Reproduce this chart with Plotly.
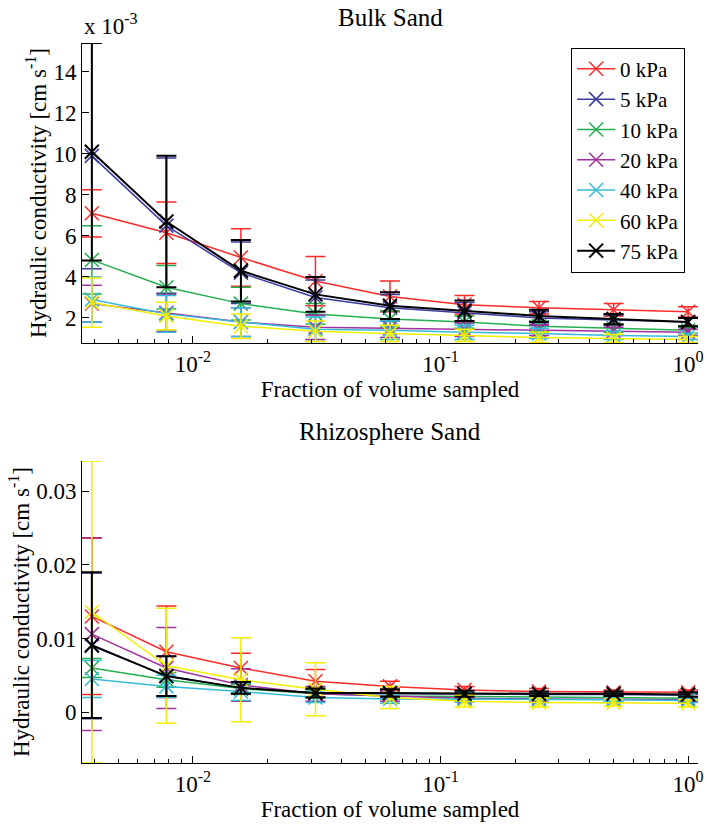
import plotly.graph_objects as go

# Fraction of volume sampled
fraction = [1/256, 1/128, 1/64, 1/32, 1/16, 1/8, 1/4, 1/2, 1]

series_names = ["0 kPa", "5 kPa", "10 kPa", "20 kPa", "40 kPa", "60 kPa", "75 kPa"]
series_colors = ["#ff2a2a", "#3a3aa0", "#22b04e", "#a0309e", "#34bbd8", "#f2ee00", "#000000"]

# Bulk sand (x 10^-3 cm/s)
bulk_0 = [7.1, 6.15, 4.95, 3.8, 3.05, 2.65, 2.5, 2.4, 2.3]
bulk_5 = [9.9, 6.5, 4.2, 3.0, 2.5, 2.25, 2.0, 1.9, 1.8]
bulk_10 = [4.83, 3.5, 2.7, 2.2, 1.95, 1.8, 1.6, 1.5, 1.4]
bulk_20 = [2.7, 2.25, 1.8, 1.55, 1.5, 1.45, 1.4, 1.35, 1.3]
bulk_40 = [2.9, 2.2, 1.8, 1.45, 1.4, 1.3, 1.25, 1.15, 1.1]
bulk_60 = [2.75, 2.1, 1.6, 1.35, 1.25, 1.15, 1.05, 1.0, 0.95]
bulk_75 = [10.1, 6.7, 4.3, 3.15, 2.6, 2.35, 2.1, 1.95, 1.8]

bulk_err_0 = [1.15, 1.5, 1.4, 1.2, 0.75, 0.45, 0.3, 0.3, 0.25]
bulk_err_5 = [5.5, 3.3, 1.5, 0.85, 0.65, 0.5, 0.3, 0.25, 0.2]
bulk_err_10 = [1.66, 1.06, 0.8, 0.5, 0.4, 0.3, 0.25, 0.2, 0.15]
bulk_err_20 = [0.9, 0.9, 0.7, 0.6, 0.45, 0.35, 0.25, 0.2, 0.15]
bulk_err_40 = [1.1, 0.9, 0.7, 0.6, 0.45, 0.35, 0.25, 0.2, 0.15]
bulk_err_60 = [1.2, 0.67, 0.6, 0.5, 0.4, 0.3, 0.25, 0.2, 0.15]
bulk_err_75 = [5.3, 3.2, 1.5, 0.85, 0.65, 0.5, 0.3, 0.25, 0.2]

# Rhizosphere sand (cm/s)
rhizo_0 = [0.013, 0.0082, 0.006, 0.0042, 0.0035, 0.003, 0.0028, 0.0027, 0.0027]
rhizo_5 = [0.009, 0.0049, 0.0033, 0.0026, 0.0025, 0.0024, 0.0024, 0.0024, 0.0023]
rhizo_10 = [0.006, 0.0044, 0.0032, 0.0025, 0.0022, 0.0021, 0.002, 0.002, 0.0019]
rhizo_20 = [0.0106, 0.006, 0.0037, 0.0025, 0.0022, 0.0019, 0.0018, 0.0017, 0.0017]
rhizo_40 = [0.0045, 0.0035, 0.0028, 0.002, 0.0018, 0.0018, 0.0017, 0.0017, 0.0016]
rhizo_60 = [0.0136, 0.0063, 0.0044, 0.0031, 0.002, 0.0015, 0.0013, 0.0013, 0.0012]
rhizo_75 = [0.0091, 0.0049, 0.0033, 0.0026, 0.0026, 0.0025, 0.0025, 0.0025, 0.0024]

rhizo_err_0 = [0.0106, 0.0062, 0.002, 0.0016, 0.0007, 0.0005, 0.0004, 0.0003, 0.0003]
rhizo_err_5 = [0.0099, 0.0027, 0.0008, 0.0005, 0.0004, 0.0003, 0.0003, 0.0002, 0.0002]
rhizo_err_10 = [0.0013, 0.001, 0.0006, 0.0005, 0.0004, 0.0003, 0.0003, 0.0002, 0.0002]
rhizo_err_20 = [0.0131, 0.0055, 0.0022, 0.001, 0.0007, 0.0005, 0.0004, 0.0003, 0.0003]
rhizo_err_40 = [0.0025, 0.0015, 0.0012, 0.0007, 0.0006, 0.0004, 0.0004, 0.0003, 0.0003]
rhizo_err_60 = [0.0205, 0.0078, 0.0057, 0.0036, 0.0015, 0.0008, 0.0006, 0.0005, 0.0005]
rhizo_err_75 = [0.0099, 0.0027, 0.0008, 0.0006, 0.0005, 0.0004, 0.0003, 0.0003, 0.0003]

bulk_vals = [bulk_0, bulk_5, bulk_10, bulk_20, bulk_40, bulk_60, bulk_75]
bulk_errs = [bulk_err_0, bulk_err_5, bulk_err_10, bulk_err_20, bulk_err_40, bulk_err_60, bulk_err_75]
rhizo_vals = [rhizo_0, rhizo_5, rhizo_10, rhizo_20, rhizo_40, rhizo_60, rhizo_75]
rhizo_errs = [rhizo_err_0, rhizo_err_5, rhizo_err_10, rhizo_err_20, rhizo_err_40, rhizo_err_60, rhizo_err_75]

x_tickvals = [0.01, 0.1, 1]
x_ticktext = ["10<sup>-2</sup>", "10<sup>-1</sup>", "10<sup>0</sup>"]
bulk_tickvals = [2, 4, 6, 8, 10, 12, 14]
rhizo_tickvals = [0, 0.01, 0.02, 0.03]
rhizo_ticktext = ["0", "0.01", "0.02", "0.03"]

FONT = "Liberation Serif"
fig = go.Figure()

for i, name in enumerate(series_names):
    col = series_colors[i]
    lw = 2 if col == "#000000" else 1.5
    fig.add_trace(go.Scatter(
        x=fraction, y=bulk_vals[i], name=name, mode="lines+markers",
        line=dict(color=col, width=lw),
        marker=dict(symbol="x-thin", size=14, line=dict(color=col, width=lw)),
        error_y=dict(type="data", array=bulk_errs[i], color=col, thickness=lw, width=10),
        xaxis="x", yaxis="y", showlegend=True))
for i, name in enumerate(series_names):
    col = series_colors[i]
    lw = 2 if col == "#000000" else 1.5
    fig.add_trace(go.Scatter(
        x=fraction, y=rhizo_vals[i], name=name, mode="lines+markers",
        line=dict(color=col, width=lw),
        marker=dict(symbol="x-thin", size=14, line=dict(color=col, width=lw)),
        error_y=dict(type="data", array=rhizo_errs[i], color=col, thickness=lw, width=10),
        xaxis="x2", yaxis="y2", showlegend=False))

minor_vals = [m * 10 ** e for e in (-3, -2, -1) for m in range(2, 10)]

xcommon = dict(type="log", range=[-2.448, 0.04], showline=True, linecolor="black",
               linewidth=1, mirror=False, ticks="inside", ticklen=7, tickcolor="black",
               tickvals=x_tickvals, ticktext=x_ticktext, showgrid=False, zeroline=False,
               tickfont=dict(family=FONT, size=23, color="black"),
               minor=dict(ticks="inside", ticklen=4, tickcolor="black", tickvals=minor_vals,
                          showgrid=False),
               title=dict(text="Fraction of volume sampled",
                          font=dict(family=FONT, size=23, color="black"), standoff=4))
ycommon = dict(showline=True, linecolor="black", linewidth=1, mirror=False,
               ticks="inside", ticklen=7, tickcolor="black", showgrid=False, zeroline=False,
               tickfont=dict(family=FONT, size=23, color="black"),
               title=dict(text="Hydraulic conductivity [cm s<sup>-1</sup>]",
                          font=dict(family=FONT, size=23, color="black"), standoff=0))

fig.update_layout(
    width=707, height=828,
    margin=dict(l=82, r=9, t=43, b=65, autoexpand=False),
    paper_bgcolor="white", plot_bgcolor="white",
    font=dict(family=FONT, size=23, color="black"),
    xaxis=dict(domain=[0, 1], anchor="y", **xcommon),
    yaxis=dict(domain=[0.5833, 1], anchor="x", range=[0.78, 15.4],
               tickvals=bulk_tickvals, **ycommon),
    xaxis2=dict(domain=[0, 1], anchor="y2", **xcommon),
    yaxis2=dict(domain=[0, 0.4194], anchor="x2", range=[-0.0069, 0.0341],
                tickvals=rhizo_tickvals, ticktext=rhizo_ticktext, **ycommon),
    legend=dict(x=0.794, y=0.9935, xanchor="left", yanchor="top",
                bordercolor="black", borderwidth=1, bgcolor="white",
                font=dict(family=FONT, size=21, color="black"),
                tracegroupgap=0, itemsizing="trace", itemwidth=38),
    annotations=[
        dict(text="Bulk Sand", xref="paper", yref="paper", x=0.5, y=1.0, yshift=10,
             xanchor="center", yanchor="bottom", showarrow=False,
             font=dict(family=FONT, size=25, color="black")),
        dict(text="Rhizosphere Sand", xref="paper", yref="paper", x=0.5, y=0.4194, yshift=14,
             xanchor="center", yanchor="bottom", showarrow=False,
             font=dict(family=FONT, size=25, color="black")),
        dict(text="x 10<sup>-3</sup>", xref="paper", yref="paper", x=0, y=1.0, yshift=2,
             xanchor="left", yanchor="bottom", showarrow=False,
             font=dict(family=FONT, size=23, color="black")),
    ],
)

# Remove the default 8px page margin so the figure fills the window exactly.
fig.write_html("out.html", config={"displayModeBar": False},
               post_script="document.body.style.margin='0';")
